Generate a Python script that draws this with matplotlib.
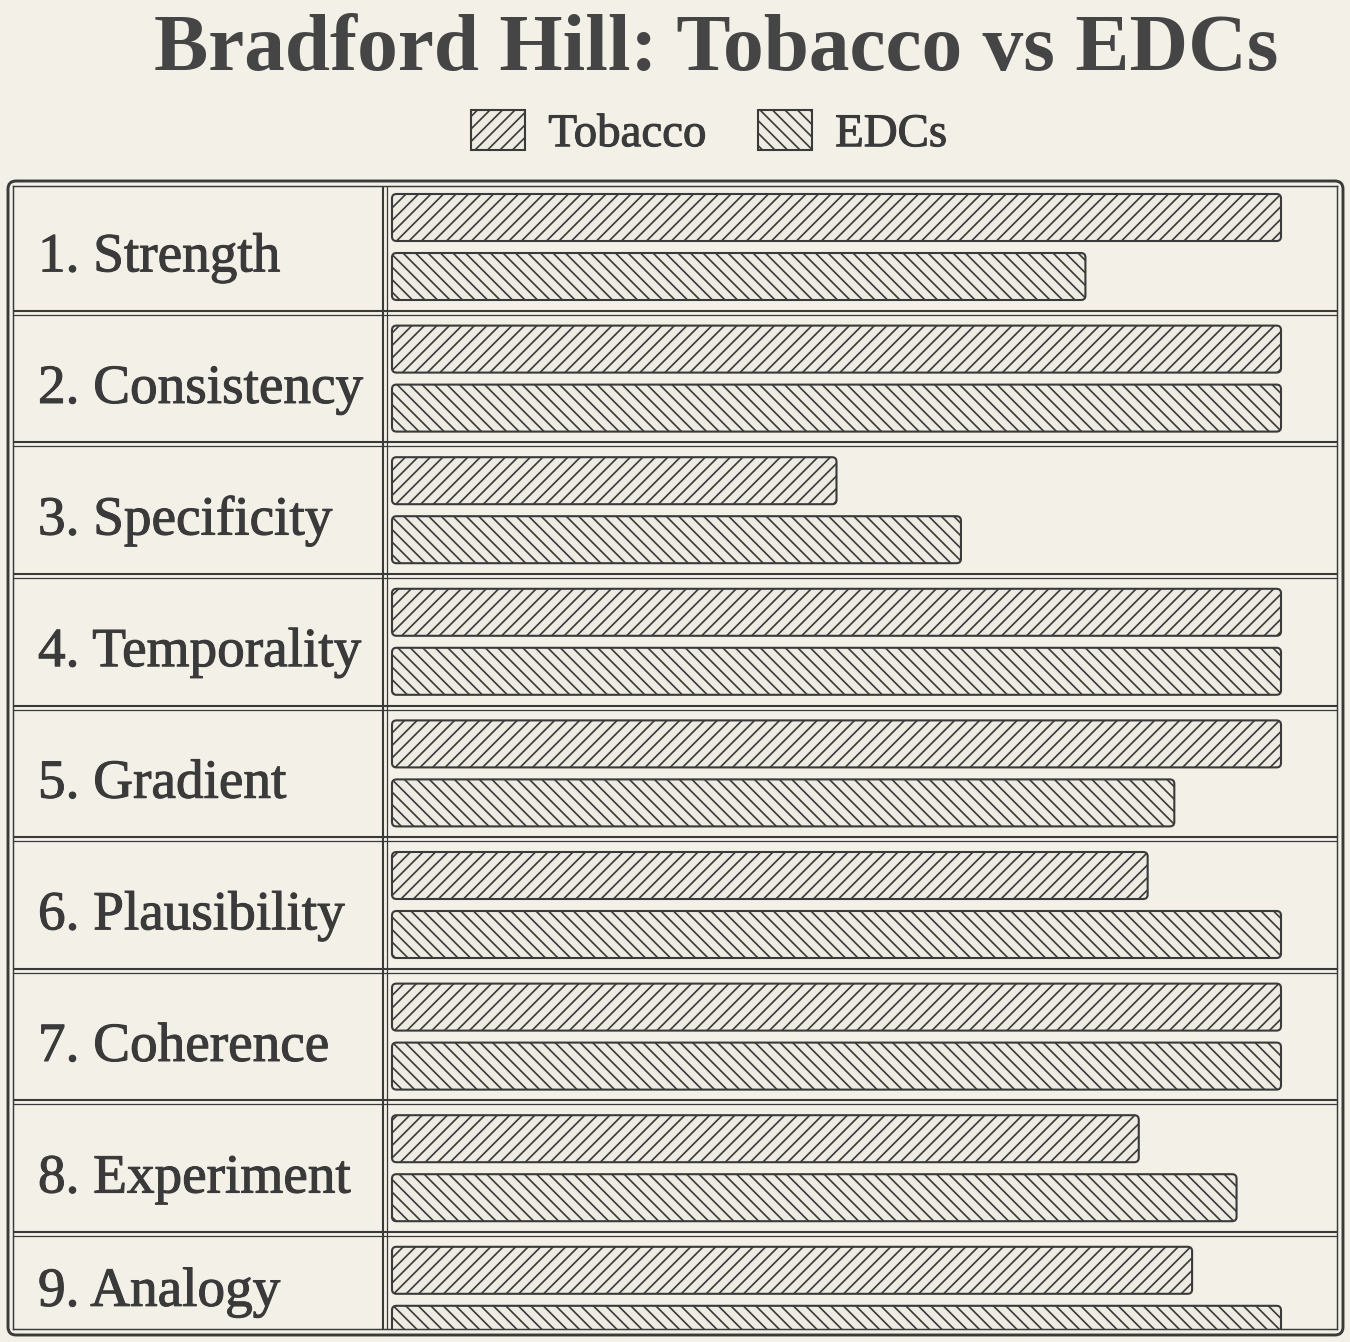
import matplotlib.pyplot as plt
import matplotlib.patheffects as pe
from matplotlib.patches import Patch, FancyBboxPatch

# Data
criteria = ["1. Strength", "2. Consistency", "3. Specificity", "4. Temporality",
            "5. Gradient", "6. Plausibility", "7. Coherence", "8. Experiment",
            "9. Analogy"]
tobacco = [10, 10, 5.0, 10, 10, 8.5, 10, 8.4, 9.0]
edcs = [7.8, 10, 6.4, 10, 8.8, 10, 10, 9.5, 10]

BG = "#f3f0e7"
INK = "#3a3a3a"
BAR_FILL = "#eeebe2"

W, H, DPI = 1350, 1342, 150
plt.rcParams['font.family'] = ['Liberation Serif', 'DejaVu Serif']
plt.rcParams['hatch.linewidth'] = 0.8


def fx(px):
    return px / W


def fy(py):
    return 1 - py / H


fig = plt.figure(figsize=(W / DPI, H / DPI), dpi=DPI, facecolor=BG)

# table axes: inner frame 13..1337 x 186..1329 px; value 0 at x=392, 10 at x=1281
ax = fig.add_axes([fx(13), fy(1329), fx(1337) - fx(13), fy(186) - fy(1329)])
ax.set_facecolor(BG)
ppu = (1281 - 392) / 10.0
pitch = 131.6
y_bottom = (1329 - 247) / pitch
ax.set_xlim((13 - 392) / ppu, (1337 - 392) / ppu)
ax.set_ylim(y_bottom, (186 - 247) / pitch)
ax.set_xticks([])
ax.set_yticks([])
for s in ax.spines.values():
    s.set_color(INK)
    s.set_linewidth(0.7)

pos = list(range(len(criteria)))
off = 29.5 / pitch
bh = 47 / pitch
b1 = ax.barh([p - off for p in pos], tobacco, height=bh, left=0)
b2 = ax.barh([p + off for p in pos], edcs, height=bh, left=0)

# redraw the bars with slightly rounded corners
aspect = ppu / pitch
for bars, hatch in ((b1, '////'), (b2, '\\\\\\\\')):
    for r in bars:
        r.set_visible(False)
        fb = FancyBboxPatch((r.get_x(), r.get_y()), r.get_width(), r.get_height(),
                            boxstyle="round,pad=0,rounding_size=0.05",
                            mutation_aspect=aspect, facecolor=BAR_FILL,
                            edgecolor=INK, linewidth=1.0, hatch=hatch)
        ax.add_patch(fb)

# row separators (double lines)
dy = 2 / pitch
for p in pos[:-1]:
    ax.axhline(p + 0.5 - dy, color=INK, lw=1.0)
    ax.axhline(p + 0.5 + dy, color=INK, lw=0.6)

# column divider
ax.axvline((383 - 392) / ppu, color=INK, lw=1.0)
ax.axvline((387 - 392) / ppu, color=INK, lw=0.6)

# row labels, centred in the visible part of each row
thick = [pe.withStroke(linewidth=0.5, foreground=INK)]
for p, name in zip(pos, criteria):
    top = p - 0.5
    bot = min(p + 0.5, y_bottom)
    ax.text((38 - 392) / ppu, (top + bot) / 2 + 0.185, name, fontsize=26.5,
            color=INK, va='baseline', ha='left', path_effects=thick)

# outer rounded border
border = FancyBboxPatch((fx(8), fy(1335)), fx(1343) - fx(8), fy(181) - fy(1335),
                        boxstyle="round,pad=0,rounding_size=0.006",
                        transform=fig.transFigure, fill=False,
                        edgecolor=INK, linewidth=1.4)
fig.add_artist(border)

# title and legend
fig.text(fx(716), fy(70), "Bradford Hill: Tobacco vs EDCs", fontsize=39,
         fontweight='bold', color="#454545", ha='center', va='baseline')

handles = [Patch(facecolor=BAR_FILL, edgecolor=INK, hatch='////', lw=1.0),
           Patch(facecolor=BAR_FILL, edgecolor=INK, hatch='\\\\\\\\', lw=1.0)]
leg = fig.legend(handles, ["Tobacco", "EDCs"], loc='center', ncol=2, frameon=False,
                 bbox_to_anchor=(fx(709), fy(133)), fontsize=22.5, labelcolor=INK,
                 handlelength=1.15, handleheight=0.95, handletextpad=0.5,
                 columnspacing=1.1)
for t in leg.get_texts():
    t.set_path_effects(thick)

fig.savefig("out.png", dpi=DPI, facecolor=BG)
